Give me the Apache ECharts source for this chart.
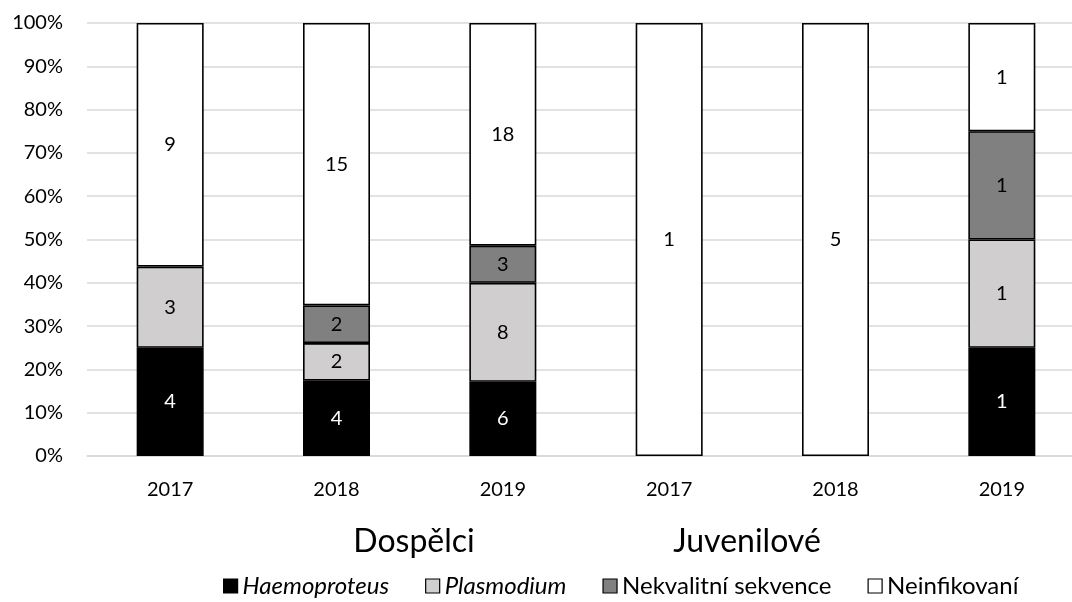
<!DOCTYPE html>
<html>
<head>
<meta charset="utf-8">
<script src="https://cdn.jsdelivr.net/npm/echarts@6/dist/echarts.min.js"></script>
<style>
  html, body { margin: 0; padding: 0; background: #ffffff; overflow: hidden; }
  #chart { width: 1090px; height: 602px; }
</style>
</head>
<body>
<div id="chart"></div>
<script>
// Years per group (Dospělci: first three, Juvenilové: last three)
const categories = ['2017', '2018', '2019', '2017', '2018', '2019'];
const groups = ['Dospělci', 'Juvenilové'];
const yTicks = ['0%', '10%', '20%', '30%', '40%', '50%', '60%', '70%', '80%', '90%', '100%'];

// Counts of individuals by result
const haemoproteus = [4, 4, 6, 0, 0, 1];
const plasmodium   = [3, 2, 8, 0, 0, 1];
const nekvalitni   = [0, 2, 3, 0, 0, 1];
const neinfikovani = [9, 15, 18, 1, 5, 1];

const seriesDefs = [
  { name: 'Haemoproteus', counts: haemoproteus, color: '#000000', label: '#ffffff', italic: true },
  { name: 'Plasmodium', counts: plasmodium, color: '#d0cece', label: '#000000', italic: true },
  { name: 'Nekvalitní sekvence', counts: nekvalitni, color: '#808080', label: '#000000', italic: false },
  { name: 'Neinfikovaní', counts: neinfikovani, color: '#ffffff', label: '#000000', italic: false }
];

const totals = categories.map((_, i) =>
  seriesDefs.reduce((s, d) => s + d.counts[i], 0));

const FONT = 'Lato, "Open Sans", sans-serif';

const series = seriesDefs.map(d => ({
  name: d.name,
  type: 'bar',
  stack: 'share',
  barWidth: 67,
  data: d.counts.map((c, i) => ({
    value: c / totals[i] * 100,
    count: c,
    itemStyle: c > 0 ? undefined : { borderWidth: 0 }
  })),
  itemStyle: { color: d.color, borderColor: '#000000', borderWidth: 1.6 },
  label: {
    show: true,
    position: 'inside',
    color: d.label,
    fontFamily: FONT,
    fontSize: 20,
    formatter: p => (p.data.count > 0 ? String(p.data.count) : '')
  },
  emphasis: { disabled: true }
}));

const chart = echarts.init(document.getElementById('chart'), null, { renderer: 'canvas' });
chart.setOption({
  animation: false,
  backgroundColor: '#ffffff',
  grid: { left: 87, top: 23, right: 5, height: 433, containLabel: false },
  xAxis: {
    type: 'category',
    data: categories.map((c, i) => i),
    axisLine: { show: true, lineStyle: { color: '#d9d9d9', width: 1.5 } },
    axisTick: { show: false },
    axisLabel: {
      color: '#000000', fontFamily: FONT, fontSize: 20, margin: 24,
      formatter: v => categories[+v]
    }
  },
  yAxis: {
    type: 'value',
    min: 0, max: 100, interval: 10,
    axisLine: { show: false },
    axisTick: { show: false },
    splitLine: { lineStyle: { color: '#d9d9d9', width: 1.5 } },
    axisLabel: {
      color: '#000000', fontFamily: FONT, fontSize: 20, margin: 24,
      formatter: v => yTicks[Math.round(v / 10)]
    }
  },
  legend: {
    top: 569,
    left: 218,
    itemWidth: 14,
    itemHeight: 14,
    itemGap: 36,
    icon: 'rect',
    textStyle: { color: '#000000', fontFamily: FONT, fontSize: 24 },
    data: seriesDefs.map(d => ({
      name: d.name,
      textStyle: d.italic ? { fontStyle: 'italic' } : {},
      itemStyle: { color: d.color, borderColor: '#000000', borderWidth: 1.2 }
    }))
  },
  graphic: [
    { type: 'text', x: 414, y: 542, style: { text: groups[0], fontFamily: FONT, fontSize: 32, fill: '#000000', textAlign: 'center', textVerticalAlign: 'middle' } },
    { type: 'text', x: 747, y: 542, style: { text: groups[1], fontFamily: FONT, fontSize: 32, fill: '#000000', textAlign: 'center', textVerticalAlign: 'middle' } }
  ],
  series: series
});
</script>
</body>
</html>
